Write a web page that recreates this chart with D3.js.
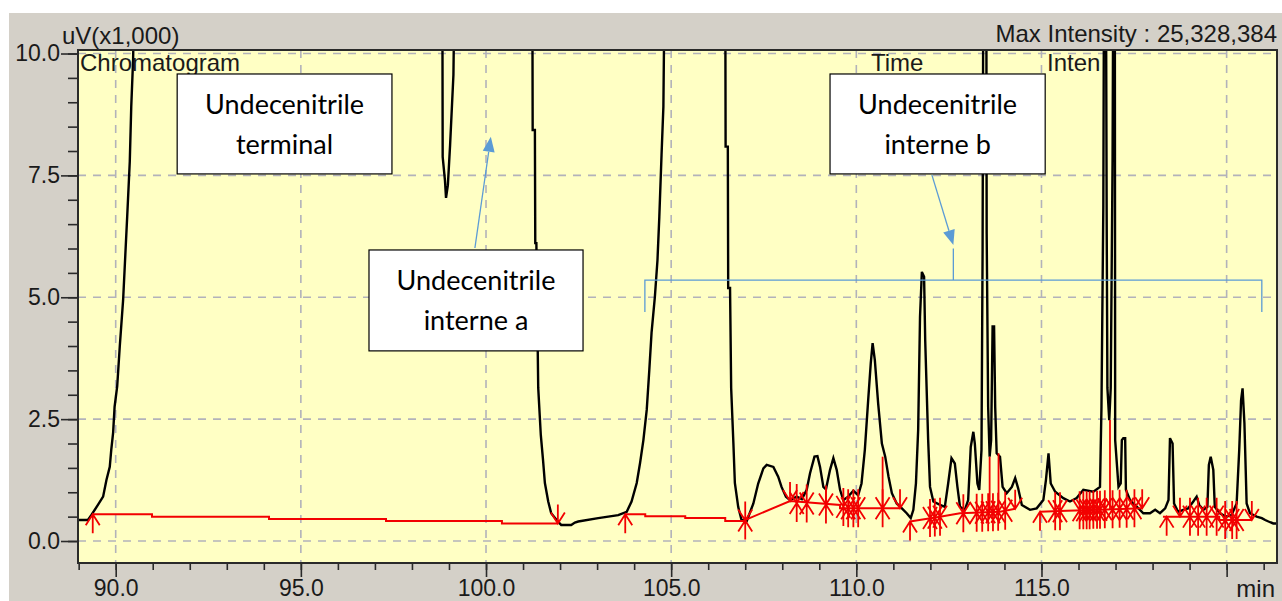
<!DOCTYPE html>
<html>
<head>
<meta charset="utf-8">
<script src="https://cdn.jsdelivr.net/npm/d3@7"></script>
<style>
  body { margin: 0; background: #fff; }
  svg { display: block; }
  .tick text { font-family: "Liberation Sans", Arial, sans-serif; font-size: 23px; fill: #1a1a1a; }
</style>
</head>
<body>
<svg id="chart" width="1282" height="601"></svg>
<script>
// chromatogram trace: [retention time (min), intensity (uV x1000)]
// points at 12 are off-scale tops (real peaks go far above 10)
const trace = [
  [88.98,0.43],[89.25,0.43],[89.34,0.53],[89.52,0.74],[89.66,0.91],[89.75,1.25],[89.84,1.52],[89.88,1.87],
  [89.93,2.22],[89.97,2.75],[90.04,3.17],[90.11,3.99],[90.20,4.94],[90.24,5.56],[90.31,6.65],[90.38,7.78],
  [90.42,8.91],[90.47,9.87],[90.52,12],
  [98.82,12],[98.83,7.88],[98.89,7.41],[98.92,7.04],[98.97,7.30],[99.03,8.12],[99.12,9.56],[99.16,12],
  [101.25,12],[101.26,8.43],[101.32,8.43],[101.33,6.11],[101.36,6.11],[101.41,3.14],[101.48,2.17],[101.54,1.66],
  [101.59,1.19],[101.68,0.81],[101.76,0.57],[101.94,0.40],[102.03,0.33],[102.30,0.33],[102.40,0.38],
  [102.49,0.40],[103.03,0.47],[103.57,0.53],[103.80,0.60],[103.93,0.81],[104.07,1.19],[104.16,1.60],[104.25,2.07],
  [104.34,2.69],[104.41,3.51],[104.47,4.27],[104.56,5.01],[104.63,5.76],[104.68,6.65],[104.74,7.92],[104.79,8.91],
  [104.83,12],
  [106.46,12],[106.47,8.09],[106.53,8.09],[106.54,5.19],[106.59,5.19],[106.62,3.14],[106.68,2.01],[106.72,1.19],
  [106.81,0.70],[106.90,0.43],[107.04,0.41],
  [107.22,0.77],[107.35,1.18],[107.49,1.49],[107.58,1.56],[107.76,1.52],[107.89,1.32],[107.98,1.11],[108.10,0.91],
  [108.21,0.84],[108.39,0.91],[108.53,0.86],[108.66,1.05],[108.75,1.39],[108.87,1.73],[108.95,1.74],[109.02,1.52],
  [109.11,1.11],[109.18,1.06],[109.29,1.46],[109.38,1.70],[109.47,1.46],[109.56,1.05],[109.65,0.84],[109.78,0.91],
  [109.92,1.03],[110.05,0.94],[110.14,1.18],[110.23,1.87],[110.32,2.89],[110.39,3.65],[110.44,4.06],[110.50,3.71],
  [110.59,2.82],[110.69,2.00],[110.78,1.73],[110.87,1.32],[110.96,0.98],[111.09,0.77],[111.23,0.67],[111.36,0.57],
  [111.47,0.47],[111.54,0.64],[111.61,1.18],[111.67,2.28],[111.72,4.60],[111.77,5.52],[111.83,5.42],[111.86,4.12],
  [111.94,2.07],[111.99,1.11],[112.08,0.81],[112.26,0.74],[112.39,0.70],[112.48,1.18],[112.57,1.70],[112.66,1.59],
  [112.73,1.11],[112.80,0.70],[112.93,0.64],[113.02,0.84],[113.09,1.93],[113.16,2.24],[113.20,2.00],[113.27,1.18],
  [113.32,1.05],[113.38,1.87],[113.41,5.97],[113.43,12],
  [113.51,12],[113.52,6.31],[113.56,2.75],[113.60,1.73],[113.64,2.07],[113.68,4.40],[113.72,4.40],[113.75,2.75],
  [113.79,1.80],[113.88,1.73],[113.95,1.11],[114.06,0.98],[114.20,1.11],[114.29,1.29],[114.37,1.08],[114.47,0.74],
  [114.69,0.64],[114.87,0.67],[115.05,0.84],[115.12,1.25],[115.19,1.80],[115.25,1.18],[115.37,1.01],[115.59,0.88],
  [115.77,0.81],[115.95,0.88],[116.13,1.05],[116.40,1.01],[116.58,1.11],[116.62,2.75],[116.67,6.86],[116.69,12],
  [116.74,12],[116.76,6.73],[116.78,3.14],[116.83,2.48],[116.87,3.14],[116.92,7.88],[116.94,12],[116.98,12],
  [116.99,2.07],[117.08,1.11],[117.14,1.18],[117.17,2.07],[117.21,2.11],[117.26,2.11],[117.28,1.05],[117.39,0.84],
  [117.48,0.77],[117.62,0.67],[117.75,0.57],[117.93,0.57],[118.07,0.64],[118.20,0.57],[118.34,0.67],[118.43,0.84],
  [118.47,2.11],[118.54,2.00],[118.58,0.77],[118.69,0.60],[118.83,0.64],[118.96,0.67],[119.10,0.81],[119.19,0.91],
  [119.26,0.74],[119.37,0.64],[119.48,0.70],[119.52,1.56],[119.57,1.73],[119.64,1.46],[119.68,0.70],[119.82,0.57],
  [119.98,0.50],[120.13,0.53],[120.27,0.77],[120.34,1.87],[120.39,2.89],[120.43,3.13],[120.48,2.42],[120.54,0.77],
  [120.63,0.57],[120.81,0.50],[120.95,0.47],[121.04,0.43],[121.13,0.40],[121.26,0.36],[121.36,0.36]
]

// integration baselines (red)
const baselines = [
  [[89.38,0.55],[90.98,0.55],[90.98,0.50],[94.14,0.50],[94.14,0.45],[97.30,0.45],[97.30,0.41],[100.43,0.41],[100.43,0.36],[101.94,0.36]],
  [[103.76,0.55],[104.30,0.55],[104.30,0.51],[105.38,0.51],[105.38,0.47],[106.46,0.47],[106.46,0.41],[107.00,0.41]],
  [[106.99,0.43],[108.21,0.82],[109.56,0.74],[109.56,0.67],[111.18,0.67]],
  [[111.45,0.40],[112.26,0.50],[112.80,0.57],[113.88,0.60],[114.29,0.66]],
  [[114.96,0.60],[115.69,0.62],[116.58,0.64],[117.72,0.67]],
  [[118.28,0.50],[119.80,0.50],[119.80,0.43],[120.68,0.43]]
]

// peak marks: [time, level, kind] s = start, e = end, b = both
const peakMarks = [
  [89.38,0.55,"s"],[101.94,0.36,"e"],
  [103.76,0.55,"s"],[107.00,0.42,"b"],
  [108.21,0.82,"e"],[108.39,0.78,"b"],[108.66,0.77,"b"],[109.18,0.75,"b"],[109.65,0.70,"b"],[109.78,0.67,"b"],
  [109.92,0.67,"b"],[110.05,0.67,"b"],[110.71,0.67,"b"],[111.18,0.67,"e"],
  [111.45,0.40,"s"],[111.99,0.47,"b"],[112.12,0.48,"b"],[112.26,0.50,"b"],[112.89,0.57,"b"],[113.25,0.58,"b"],
  [113.40,0.58,"b"],[113.56,0.59,"b"],[113.69,0.59,"b"],[113.83,0.60,"b"],[114.02,0.62,"b"],[114.29,0.66,"e"],
  [114.96,0.60,"s"],[115.37,0.61,"b"],[115.50,0.61,"b"],[116.03,0.63,"b"],[116.13,0.63,"b"],[116.22,0.63,"b"],
  [116.30,0.63,"b"],[116.40,0.64,"b"],[116.50,0.64,"b"],[116.58,0.64,"b"],[116.71,0.65,"b"],[116.92,0.65,"b"],
  [117.11,0.66,"b"],[117.30,0.66,"b"],[117.51,0.67,"b"],[117.72,0.67,"e"],
  [118.38,0.50,"s"],[118.74,0.50,"e"],[119.01,0.50,"b"],[119.23,0.50,"b"],[119.46,0.50,"b"],[119.73,0.50,"b"],
  [119.96,0.43,"b"],[120.15,0.43,"b"],[120.27,0.43,"b"],[120.68,0.43,"e"]
]

// peak split lines: [time, top, bottom]
const dropLines = [[109.18,1.06,0.75],[110.71,1.73,0.67],[113.60,1.73,0.59],[113.84,1.80,0.60],[116.85,2.48,0.65]]

const xTicks = [90, 95, 100, 105, 110, 115, 120]
const xMinor = d3.range(89, 122)
const yTicks = [0, 2.5, 5, 7.5, 10]
const yMinor = d3.range(0, 10.01, 0.5)

// annotations, in data units
const noteText = [["Undecenitrile", "terminal"], ["Undecenitrile", "interne a"], ["Undecenitrile", "interne b"]]
const noteBoxes = [[91.66, 97.46, 9.58, 7.53], [96.84, 102.62, 5.97, 3.90], [109.29, 115.10, 9.58, 7.53]]
const noteArrows = [[99.70, 6.01, 100.13, 8.29], [112.04, 7.51, 112.62, 6.07]]
const bracket = [104.29, 120.95, 5.35, 4.70, 112.62, 6.00]

let svg = d3.select("#chart"),
  pL = 78, pT = 50, pR = 1277, pB = 563,
  x = d3.scaleLinear().domain([88.982, 121.36]).range([pL, pR]),
  y = d3.scaleLinear().domain([-0.451, 10.072]).range([pB, pT]),
  font = '"Liberation Sans", Arial, sans-serif'

// window background
svg.append("rect").attr("x", 9).attr("y", 13).attr("width", 1273).attr("height", 588).attr("fill", "#d4d0c8")
svg.append("rect").attr("x", pL).attr("y", pT).attr("width", pR - pL).attr("height", pB - pT).attr("fill", "#ffffc4")

svg.append("clipPath").attr("id", "clip")
  .append("rect").attr("x", pL).attr("y", pT).attr("width", pR - pL).attr("height", pB - pT)

let grid = svg.append("g").attr("stroke", "#b2b2ba").attr("stroke-width", 1.6).attr("stroke-dasharray", "8,7")
grid.selectAll(".vx").data(xTicks).enter().append("line")
  .attr("x1", d => x(d)).attr("x2", d => x(d)).attr("y1", pT).attr("y2", pB)
grid.selectAll(".hy").data(yTicks).enter().append("line")
  .attr("y1", d => y(d)).attr("y2", d => y(d)).attr("x1", pL).attr("x2", pR)

let plot = svg.append("g").attr("clip-path", "url(#clip)")
let line = d3.line().x(d => x(d[0])).y(d => y(d[1]))

plot.append("path").datum(trace)
  .attr("d", line).attr("fill", "none").attr("stroke", "#000").attr("stroke-width", 2.4).attr("stroke-linejoin", "miter")

let red = plot.append("g").attr("stroke", "#f20000").attr("fill", "none")
red.selectAll(".base").data(baselines).enter().append("path")
  .attr("d", line).attr("stroke-width", 2)
red.selectAll(".drop").data(dropLines).enter().append("line")
  .attr("x1", d => x(d[0])).attr("x2", d => x(d[0]))
  .attr("y1", d => y(d[1])).attr("y2", d => y(d[2])).attr("stroke-width", 1.8)

function markPath(d) {
  let px = x(d[0]), py = y(d[1]), p = d3.path()
  let dirs = d[2] == "s" ? [1] : d[2] == "e" ? [-1] : [1, -1]
  dirs.forEach(s => {
    p.moveTo(px, py); p.lineTo(px, py + 19 * s)
    p.moveTo(px - 7, py + 11 * s); p.lineTo(px, py); p.lineTo(px + 7, py + 11 * s)
  })
  return p.toString()
}
red.selectAll(".mark").data(peakMarks).enter().append("path")
  .attr("d", markPath).attr("stroke-width", 1.8)

svg.append("rect").attr("x", pL).attr("y", pT).attr("width", pR - pL).attr("height", pB - pT)
  .attr("fill", "none").attr("stroke", "#2a2a2a").attr("stroke-width", 2)

// axes
function styleAxis(g) {
  g.select(".domain").remove()
  g.selectAll(".tick line").attr("stroke", "#2a2a2a").attr("stroke-width", 1.6)
}
svg.append("g").attr("transform", `translate(${pL},0)`)
  .call(d3.axisLeft(y).tickValues(yMinor).tickSize(10).tickFormat(""))
  .call(styleAxis)
svg.append("g").attr("transform", `translate(${pL},0)`)
  .call(d3.axisLeft(y).tickValues(yTicks).tickSize(17).tickPadding(1).tickFormat(d3.format(".1f")))
  .call(styleAxis)
svg.append("g").attr("transform", `translate(0,${pB})`)
  .call(d3.axisBottom(x).tickValues(xMinor).tickSize(7).tickFormat(""))
  .call(styleAxis)
// last major tick carries no number, the unit label sits there instead
svg.append("g").attr("transform", `translate(0,${pB})`)
  .call(d3.axisBottom(x).tickValues(xTicks).tickSize(14).tickPadding(3)
    .tickFormat(d => d == 120 ? "" : d3.format(".1f")(d)))
  .call(styleAxis)

let labels = [
  ["uV(x1,000)", 62, 44, "start"],
  ["Max Intensity : 25,328,384", 1277, 42, "end"],
  ["Chromatogram", 80, 71, "start"],
  ["Time", 871, 71, "start"],
  ["Inten", 1047, 71, "start"],
  ["min", 1275, 597, "end"]
]
svg.selectAll(".lbl").data(labels).enter().append("text")
  .attr("x", d => d[1]).attr("y", d => d[2]).attr("text-anchor", d => d[3])
  .attr("font-family", font).attr("font-size", 24).attr("fill", "#1a1a1a")
  .text(d => d[0])

// annotation boxes and arrows
let blue = "#5b9bd5"
let notes = svg.append("g")
noteBoxes.forEach((b, i) => {
  let x0 = x(b[0]), x1 = x(b[1]), y0 = y(b[2]), y1 = y(b[3])
  notes.append("rect").attr("x", x0).attr("y", y0).attr("width", x1 - x0).attr("height", y1 - y0)
    .attr("fill", "#fff").attr("stroke", "#000").attr("stroke-width", 1.2)
  notes.selectAll(null).data(noteText[i]).enter().append("text")
    .attr("x", (x0 + x1) / 2).attr("y", (d, j) => y0 + 40 + j * 40)
    .attr("text-anchor", "middle").attr("font-family", "Lato, 'Open Sans', sans-serif")
    .attr("font-size", 27).attr("fill", "#000").text(d => d)
})

noteArrows.forEach(a => {
  let x0 = x(a[0]), y0 = y(a[1]), x1 = x(a[2]), y1 = y(a[3])
  let len = Math.hypot(x1 - x0, y1 - y0), ux = (x1 - x0) / len, uy = (y1 - y0) / len
  let hl = 15, hw = 6
  let bx = x1 - ux * hl, by = y1 - uy * hl
  notes.append("line").attr("x1", x0).attr("y1", y0).attr("x2", bx).attr("y2", by)
    .attr("stroke", blue).attr("stroke-width", 1.3)
  notes.append("path")
    .attr("d", `M${x1},${y1}L${bx - uy * hw},${by + ux * hw}L${bx + uy * hw},${by - ux * hw}Z`)
    .attr("fill", blue)
})

let [bl, br, bt, bb, bc, bk] = bracket
notes.append("path")
  .attr("d", `M${x(bl)},${y(bb)}V${y(bt)}H${x(br)}V${y(bb)}M${x(bc)},${y(bt)}V${y(bk)}`)
  .attr("fill", "none").attr("stroke", blue).attr("stroke-width", 1.3)
</script>
</body>
</html>
